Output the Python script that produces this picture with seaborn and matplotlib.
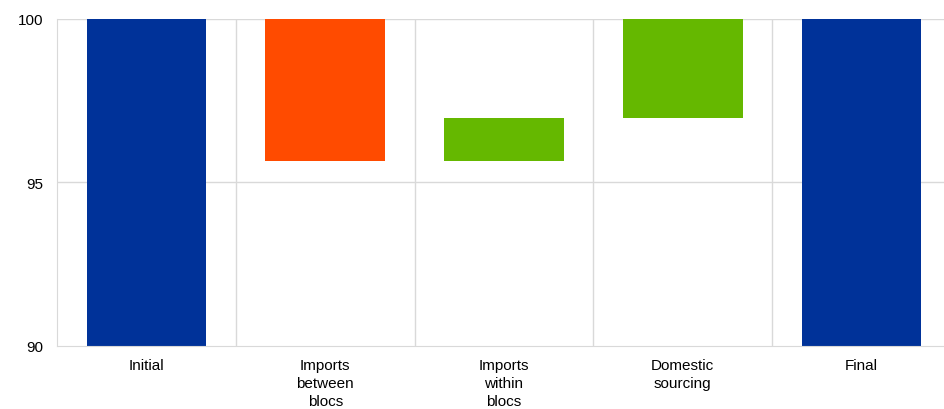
import numpy as np
import matplotlib
matplotlib.use("Agg")
import matplotlib.pyplot as plt
import seaborn as sns

# data
categories = ["Initial", "Imports\nbetween\nblocs", "Imports\nwithin\nblocs",
              "Domestic\nsourcing", "Final"]
start_value = 100.0
changes = [-4.34, 1.31, 3.03]
final_value = 100.0
bar_colors = ["#003299", "#ff4b00", "#65b800", "#65b800", "#003299"]

# waterfall: floating bars for the changes
levels = start_value + np.cumsum([0] + changes)
bottoms = [0.0]
heights = [start_value]
for i, ch in enumerate(changes):
    bottoms.append(min(levels[i], levels[i + 1]))
    heights.append(abs(ch))
bottoms.append(0.0)
heights.append(final_value)

sns.set_style("white")
plt.rcParams["font.family"] = ["Liberation Sans", "DejaVu Sans"]

fig = plt.figure(figsize=(9.44, 4.10), dpi=100)
# plot area runs a few px past the right edge of the image
ax = fig.add_axes([0.0604, 0.1537, 0.947, 0.7976])

sns.barplot(x=categories, y=heights, bottom=bottoms, width=0.67,
            color=bar_colors[0], saturation=1, ax=ax, linewidth=0)
for patch, c in zip(ax.patches, bar_colors):
    patch.set_facecolor(c)
    patch.set_edgecolor(c)

ax.set_ylim(90, 100)
ax.set_xlim(-0.5, 4.5)
ax.set_yticks([90, 95, 100])

grid_c = "#d9d9d9"
for y in [95, 100]:
    ax.axhline(y, color=grid_c, lw=1, zorder=0)
for x in [0.5, 1.5, 2.5, 3.5]:
    ax.axvline(x, color=grid_c, lw=1, zorder=0)

for side in ["top", "right"]:
    ax.spines[side].set_visible(False)
ax.spines["left"].set_color(grid_c)
ax.spines["bottom"].set_color(grid_c)
ax.spines["bottom"].set_zorder(3)

ax.tick_params(axis="both", length=0, labelsize=11, colors="#000000")
ax.tick_params(axis="y", pad=10)
ax.tick_params(axis="x", pad=9)
for lbl in ax.get_xticklabels():
    lbl.set_linespacing(1.35)
ax.set_xlabel("")
ax.set_ylabel("")

fig.savefig("out.png", dpi=100)
